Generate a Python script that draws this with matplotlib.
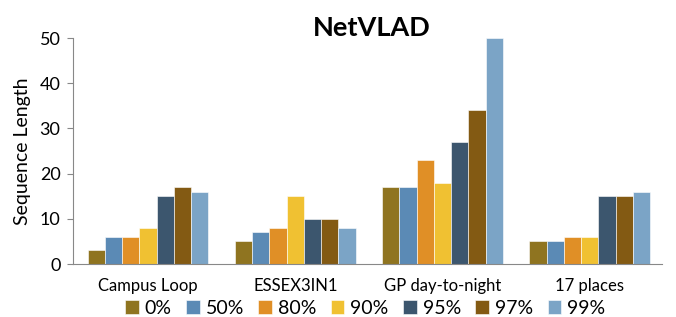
import numpy as np
import matplotlib.pyplot as plt

plt.rcParams['font.family'] = ['Lato', 'DejaVu Sans']

datasets = ['Campus Loop', 'ESSEX3IN1', 'GP day-to-night', '17 places']
levels = ['0%', '50%', '80%', '90%', '95%', '97%', '99%']
seq_0 = [3, 5, 17, 5]
seq_50 = [6, 7, 17, 5]
seq_80 = [6, 8, 23, 6]
seq_90 = [8, 15, 18, 6]
seq_95 = [15, 10, 27, 15]
seq_97 = [17, 10, 34, 15]
seq_99 = [16, 8, 50, 16]
series = [seq_0, seq_50, seq_80, seq_90, seq_95, seq_97, seq_99]
colors = ['#8f7420', '#5b8ab5', '#e08f26', '#f0c132', '#3c566e', '#835a13', '#7ba4c6']

fig = plt.figure(figsize=(6.76, 3.17), dpi=100)
ax = fig.add_axes([0.108, 0.167, 0.871, 0.713])

x = np.arange(len(datasets))
w = 0.117
for i, (vals, c) in enumerate(zip(series, colors)):
    ax.bar(x + (i - 3) * w, vals, w, color=c, edgecolor='white', linewidth=0.4,
           label=levels[i])

ax.set_xlim(-0.51, 3.49)
ax.set_ylim(0, 50)
ax.set_yticks([0, 10, 20, 30, 40, 50])
ax.set_xticks(x)
ax.set_xticklabels(datasets, fontsize=12)
ax.tick_params(axis='x', length=0, pad=10)
ax.tick_params(axis='y', labelsize=13, color='#888888', length=4, width=0.8, pad=5)
for s in ['top', 'right']:
    ax.spines[s].set_visible(False)
ax.spines['left'].set_color('#888888')
ax.spines['bottom'].set_color('#888888')
ax.set_ylabel('Sequence Length', fontsize=14, labelpad=6)
fig.text(0.55, 0.885, 'NetVLAD', fontsize=19.5, fontweight='bold', ha='center')

fig.legend(loc='lower center', bbox_to_anchor=(0.54, -0.055), ncol=7, frameon=False,
           fontsize=14, handlelength=0.7, handleheight=0.7, handletextpad=0.3,
           columnspacing=0.75)

fig.savefig('out.png', dpi=100)
